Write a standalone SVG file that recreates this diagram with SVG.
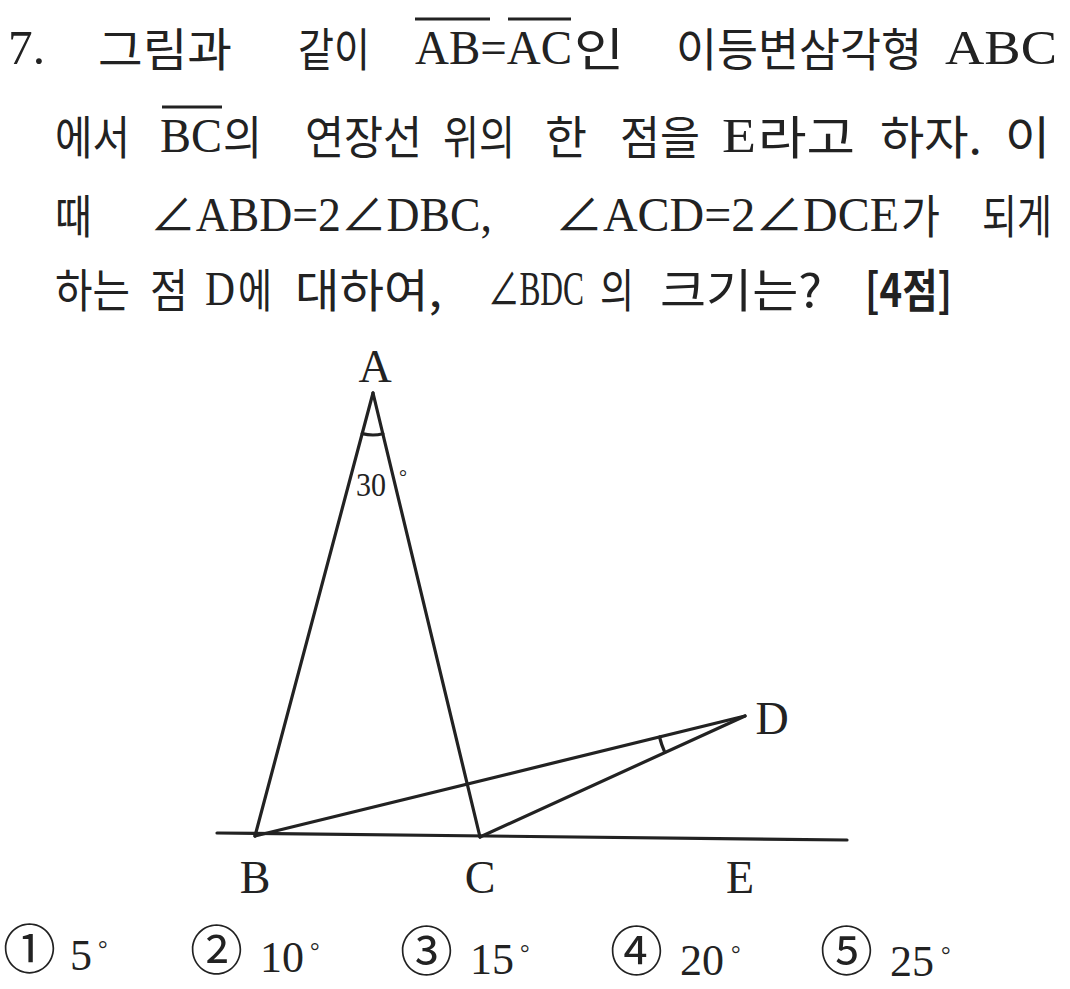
<svg xmlns="http://www.w3.org/2000/svg" width="1070" height="989" viewBox="0 0 1070 989">
<style>
.t{font-family:"Liberation Serif","Noto Sans CJK KR",serif;font-size:48px;fill:#222}
.k{font-family:"Noto Sans CJK KR",sans-serif;font-size:46px;fill:#222}
.lb{font-family:"Liberation Serif",serif;font-size:46px;fill:#222;text-anchor:middle}
.c{font-family:"Noto Sans CJK KR",sans-serif;font-size:53px;fill:#222}
.n{font-family:"Liberation Serif",serif;font-size:44px;fill:#222}
.dg{font-family:"Liberation Serif",serif;font-size:24px;fill:#222}
.ln{stroke:#222;stroke-width:3.2;fill:none;stroke-linecap:round}
.ov{stroke:#222;stroke-width:3}
</style>
<rect width="1070" height="989" fill="#ffffff"/>
<g id="question">
<text class="t" x="8" y="64" textLength="37" lengthAdjust="spacingAndGlyphs">7.</text>
<text class="k" x="98" y="66" textLength="134" lengthAdjust="spacingAndGlyphs">그림과</text>
<text class="k" x="298" y="66" textLength="72" lengthAdjust="spacingAndGlyphs">같이</text>
<text class="t" x="415" y="64" textLength="157" lengthAdjust="spacingAndGlyphs">AB=AC</text>
<text class="k" x="574" y="66" textLength="50" lengthAdjust="spacingAndGlyphs">인</text>
<line class="ov" x1="415" y1="19" x2="490" y2="19"/>
<line class="ov" x1="508" y1="19" x2="571" y2="19"/>
<text class="k" x="676" y="66" textLength="246" lengthAdjust="spacingAndGlyphs">이등변삼각형</text>
<text class="t" x="945" y="64" textLength="112" lengthAdjust="spacingAndGlyphs">ABC</text>

<text class="k" x="55" y="154" textLength="75" lengthAdjust="spacingAndGlyphs">에서</text>
<text class="t" x="160" y="152" textLength="62" lengthAdjust="spacingAndGlyphs">BC</text>
<text class="k" x="223" y="154" textLength="39" lengthAdjust="spacingAndGlyphs">의</text>
<line class="ov" x1="162" y1="107" x2="222" y2="107"/>
<text class="k" x="305" y="154" textLength="117" lengthAdjust="spacingAndGlyphs">연장선</text>
<text class="k" x="443" y="154" textLength="72" lengthAdjust="spacingAndGlyphs">위의</text>
<text class="k" x="545" y="154" textLength="42" lengthAdjust="spacingAndGlyphs">한</text>
<text class="k" x="620" y="154" textLength="80" lengthAdjust="spacingAndGlyphs">점을</text>
<text class="t" x="722" y="152" textLength="34" lengthAdjust="spacingAndGlyphs">E</text>
<text class="k" x="758" y="154" textLength="97" lengthAdjust="spacingAndGlyphs">라고</text>
<text class="k" x="880" y="154" textLength="102" lengthAdjust="spacingAndGlyphs">하자.</text>
<text class="k" x="1005" y="154" textLength="45" lengthAdjust="spacingAndGlyphs">이</text>

<text class="k" x="55" y="233" textLength="37" lengthAdjust="spacingAndGlyphs">때</text>
<text class="t" x="150" y="231" textLength="342" lengthAdjust="spacingAndGlyphs">∠ABD=2∠DBC,</text>
<text class="t" x="555" y="231" textLength="344" lengthAdjust="spacingAndGlyphs">∠ACD=2∠DCE</text>
<text class="k" x="901" y="233" textLength="39" lengthAdjust="spacingAndGlyphs">가</text>
<text class="k" x="982" y="233" textLength="70" lengthAdjust="spacingAndGlyphs">되게</text>

<text class="k" x="55" y="307" textLength="75" lengthAdjust="spacingAndGlyphs">하는</text>
<text class="k" x="150" y="307" textLength="38" lengthAdjust="spacingAndGlyphs">점</text>
<text class="t" x="205" y="305" textLength="30" lengthAdjust="spacingAndGlyphs">D</text>
<text class="k" x="238" y="307" textLength="34" lengthAdjust="spacingAndGlyphs">에</text>
<text class="k" x="295" y="307" textLength="147" lengthAdjust="spacingAndGlyphs">대하여,</text>
<text class="t" x="488" y="305" textLength="96" lengthAdjust="spacingAndGlyphs">∠BDC</text>
<text class="k" x="600" y="307" textLength="34" lengthAdjust="spacingAndGlyphs">의</text>
<text class="k" x="660" y="307" textLength="162" lengthAdjust="spacingAndGlyphs">크기는?</text>
<text class="k" x="865" y="307" textLength="87" lengthAdjust="spacingAndGlyphs" font-weight="bold">[4점]</text>
</g>
<g id="connectors">
<line class="ln" x1="217" y1="833" x2="847" y2="840"/>
<line class="ln" x1="373" y1="393" x2="255" y2="836"/>
<line class="ln" x1="373" y1="393" x2="480" y2="837"/>
<line class="ln" x1="255" y1="836" x2="745" y2="716"/>
<line class="ln" x1="480" y1="837" x2="745" y2="716"/>
<path class="ln" d="M362.2 433.6 A42 42 0 0 0 382.9 433.8" stroke-width="2.6"/>
<path class="ln" d="M659.5 737 A88 88 0 0 0 664.8 752.3" stroke-width="2.6"/>
</g>
<g id="node-A"><text class="lb" x="375" y="382">A</text></g>
<g id="angle-label"><text class="n" x="356" y="496" style="font-size:34px" textLength="30" lengthAdjust="spacingAndGlyphs">30</text><text class="dg" x="399" y="484" style="font-size:20px">°</text></g>
<g id="node-B"><text class="lb" x="255" y="893">B</text></g>
<g id="node-C"><text class="lb" x="480" y="893">C</text></g>
<g id="node-E"><text class="lb" x="740" y="893">E</text></g>
<g id="node-D"><text class="lb" x="772" y="734">D</text></g>
<g id="choices">
<text class="c" x="3" y="969">①</text>
<text class="n" x="70" y="970">5</text><text class="dg" x="98" y="957">°</text>
<text class="c" x="190" y="970">②</text>
<text class="n" x="260" y="972">10</text><text class="dg" x="310" y="959">°</text>
<text class="c" x="400" y="971">③</text>
<text class="n" x="470" y="974">15</text><text class="dg" x="520" y="961">°</text>
<text class="c" x="610" y="971">④</text>
<text class="n" x="680" y="975">20</text><text class="dg" x="731" y="962">°</text>
<text class="c" x="820" y="971">⑤</text>
<text class="n" x="890" y="976">25</text><text class="dg" x="941" y="963">°</text>
</g>
</svg>
